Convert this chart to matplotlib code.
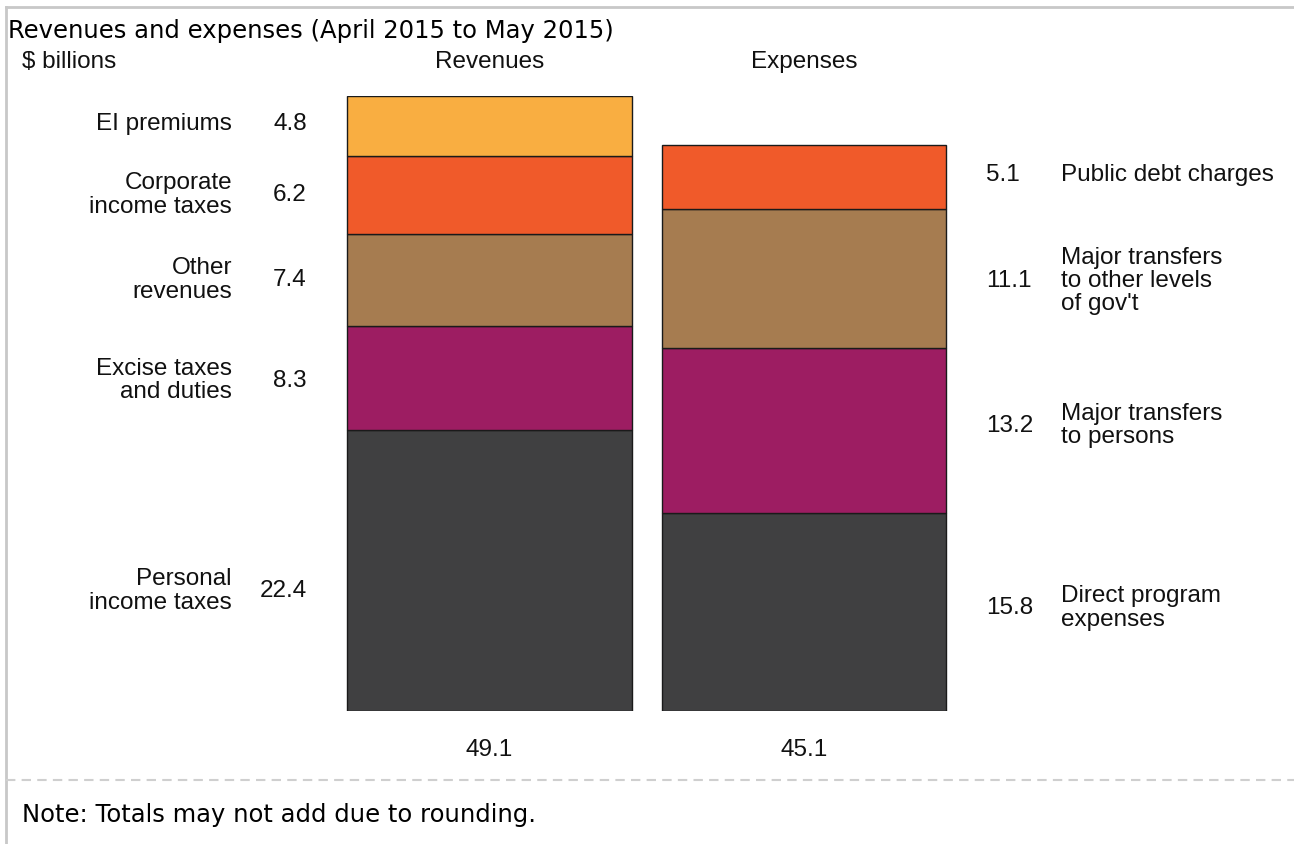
import matplotlib
matplotlib.use("Agg")
import matplotlib.pyplot as plt
from matplotlib import transforms
from matplotlib.lines import Line2D

# ---- data ----
rev_labels = ["Personal\nincome taxes", "Excise taxes\nand duties", "Other\nrevenues",
              "Corporate\nincome taxes", "EI premiums"]
rev_values = [22.4, 8.3, 7.4, 6.2, 4.8]
rev_colors = ["#404041", "#9D1D62", "#A67C50", "#F05A2A", "#F9AE41"]
rev_total = 49.1

exp_labels = ["Direct program\nexpenses", "Major transfers\nto persons",
              "Major transfers\nto other levels\nof gov't", "Public debt charges"]
exp_values = [15.8, 13.2, 11.1, 5.1]
exp_colors = ["#404041", "#9D1D62", "#A67C50", "#F05A2A"]
exp_total = 45.1

groups = ["Revenues", "Expenses"]

title = "Revenues and expenses (April 2015 to May 2015)"
unit = "$ billions"
note = "Note: Totals may not add due to rounding."

# ---- figure ----
W, H = 1294, 844
fig = plt.figure(figsize=(W / 100, H / 100), dpi=100)
fig.patch.set_facecolor("white")

def fx(px):
    return px / W

def fy(py):
    return 1 - py / H

ax = fig.add_axes([0, fy(711), 1, (711 - 96) / H])
ax.set_axis_off()
ax.set_xlim(-1.5564, 2.558)
ax.set_ylim(0, max(sum(rev_values), sum(exp_values)))

bw = 0.906
sans = "Liberation Sans"
fs = 17.5
tc = "#111111"

def stack(xpos, values, colors):
    bottom = 0
    mids = []
    for v, c in zip(values, colors):
        ax.bar(xpos, v, bottom=bottom, width=bw, color=c, edgecolor="#1a1a1a",
               linewidth=1.0, zorder=2)
        mids.append(bottom + v / 2)
        bottom += v
    return mids

rev_mids = stack(0, rev_values, rev_colors)
exp_mids = stack(1, exp_values, exp_colors)

trans = transforms.blended_transform_factory(fig.transFigure, ax.transData)

# small vertical nudges (points) for label placement
rev_nudge = [-14.5, -1.5, 0, 0, 1.5]
exp_nudge = [3, 3.5, -2, 1.5]

for lab, val, m, nd in zip(rev_labels, rev_values, rev_mids, rev_nudge):
    off = transforms.offset_copy(trans, fig=fig, y=nd, units="points")
    ax.text(fx(232), m, lab, transform=off, ha="right", va="center",
            fontsize=fs, family=sans, linespacing=1.08, color=tc)
    ax.text(fx(307), m, f"{val:.1f}", transform=off, ha="right", va="center",
            fontsize=fs, family=sans, color=tc)

for lab, val, m, nd in zip(exp_labels, exp_values, exp_mids, exp_nudge):
    off = transforms.offset_copy(trans, fig=fig, y=nd, units="points")
    ax.text(fx(986), m, f"{val:.1f}", transform=off, ha="left", va="center",
            fontsize=fs, family=sans, color=tc)
    ax.text(fx(1061), m, lab, transform=off, ha="left", va="center",
            fontsize=fs, family=sans, linespacing=1.08, color=tc)

# group headers and totals
xt = transforms.blended_transform_factory(ax.transData, fig.transFigure)
for i, (g, t) in enumerate(zip(groups, [rev_total, exp_total])):
    ax.text(i, fy(62), g, transform=xt, ha="center", va="center",
            fontsize=fs, family=sans, color=tc)
    ax.text(i, fy(750), f"{t:.1f}", transform=xt, ha="center", va="center",
            fontsize=fs, family=sans, color=tc)

fig.text(fx(22), fy(62), unit, ha="left", va="center", fontsize=fs,
         family=sans, color=tc)
fig.text(fx(8), fy(31), title, ha="left", va="center", fontsize=17.5,
         family="DejaVu Sans", color="#000000")
fig.text(fx(22), fy(815), note, ha="left", va="center", fontsize=17.5,
         family="DejaVu Sans", color="#000000")

# frame lines
fig.add_artist(Line2D([fx(6), 1], [fy(7), fy(7)], color="#c8c8c8", lw=2,
                      transform=fig.transFigure))
fig.add_artist(Line2D([fx(6), fx(6)], [fy(7), 0], color="#c8c8c8", lw=2,
                      transform=fig.transFigure))
fig.add_artist(Line2D([fx(6), 1], [fy(780), fy(780)], color="#cfcfcf", lw=1.5,
                      linestyle=(0, (4.5, 3)), transform=fig.transFigure))

fig.savefig("out.png", dpi=100, facecolor="white")
